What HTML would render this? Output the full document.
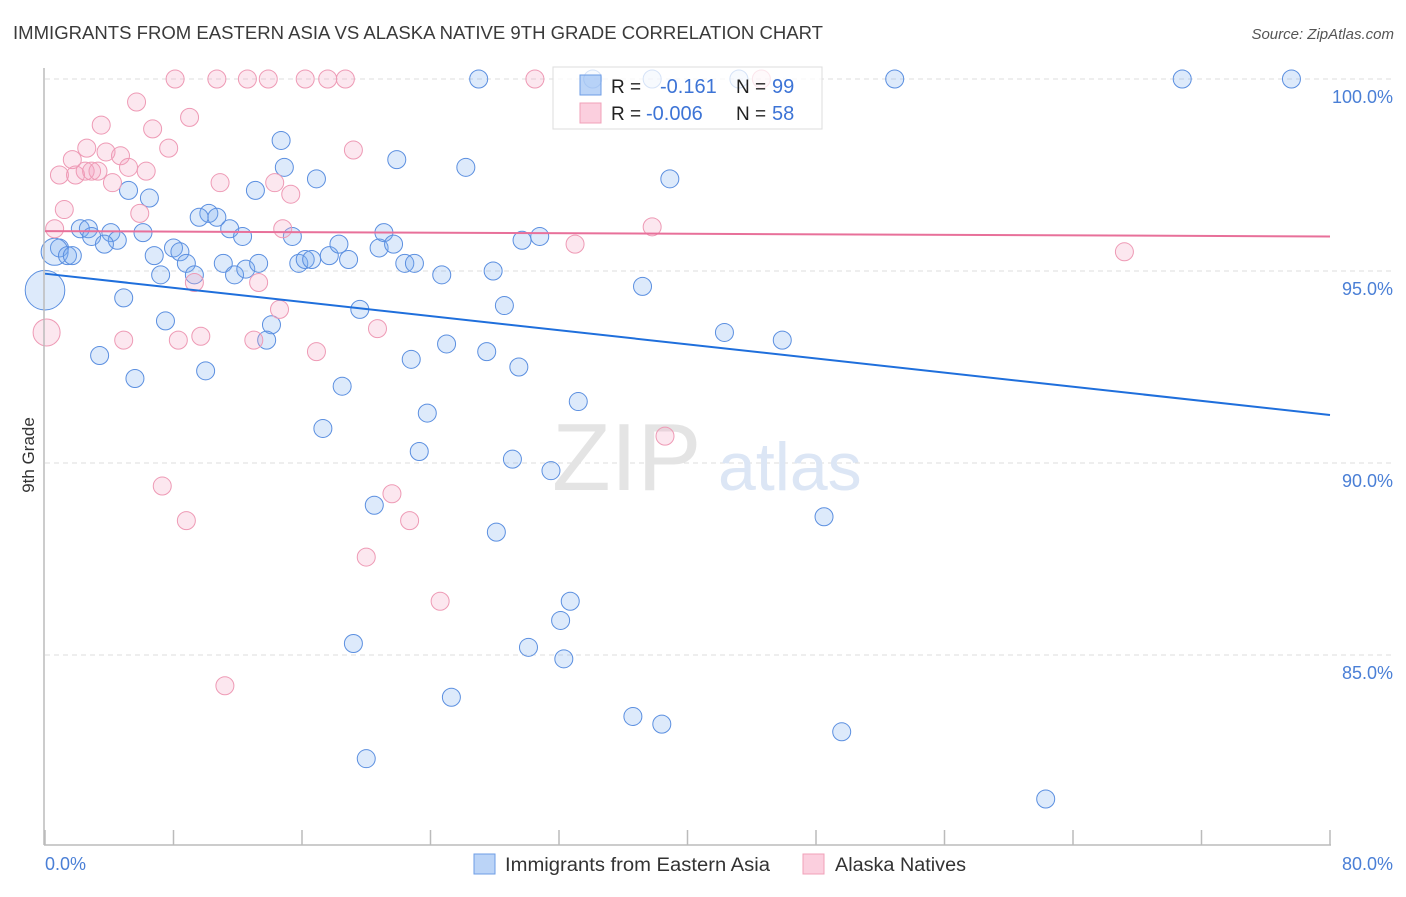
<!DOCTYPE html>
<html><head><meta charset="utf-8"><style>
body{margin:0;background:#fff;font-family:"Liberation Sans",sans-serif}
svg text{font-family:"Liberation Sans",sans-serif}
</style></head><body>
<svg id="chart" width="1406" height="892" viewBox="0 0 1406 892" xmlns="http://www.w3.org/2000/svg">
<text x="13" y="39" font-size="18" fill="#3a3a3a" textLength="810" lengthAdjust="spacingAndGlyphs">IMMIGRANTS FROM EASTERN ASIA VS ALASKA NATIVE 9TH GRADE CORRELATION CHART</text>
<text x="1394" y="39" font-size="15" fill="#555" text-anchor="end" font-style="italic">Source: ZipAtlas.com</text>
<g id="grid"></g>
<text x="552" y="490" font-size="96" fill="#e4e4e4" font-family="Liberation Serif">ZIP</text>
<text x="718" y="490" font-size="68" fill="#dce6f5">atlas</text>
<g id="pts"></g>
<g id="lines"></g>
<line x1="44" y1="68" x2="44" y2="845" stroke="#bbb" stroke-width="1.5"/>
<line x1="44" y1="845" x2="1331" y2="845" stroke="#bbb" stroke-width="1.5"/>
<g id="xt"></g>
<g id="yt"></g>
<text x="45" y="870" font-size="18" fill="#4a7fd6">0.0%</text>
<text x="1393" y="870" font-size="18" fill="#4a7fd6" text-anchor="end">80.0%</text>
<text transform="translate(34,455) rotate(-90)" font-size="17" fill="#333" text-anchor="middle">9th Grade</text>
<g>
<rect x="553" y="67" width="269" height="62" fill="rgba(255,255,255,0.75)" stroke="#ddd"/>
<rect x="580" y="75" width="21" height="20" fill="rgba(120,170,240,0.5)" stroke="#6e9de6"/>
<rect x="580" y="103" width="21" height="20" fill="rgba(248,175,200,0.6)" stroke="#f0a0b8"/>
<text x="611" y="93" font-size="19" fill="#222">R =</text>
<text x="660" y="93" font-size="20" fill="#3d74d6">-0.161</text>
<text x="736" y="93" font-size="19" fill="#222">N =</text>
<text x="772" y="93" font-size="20" fill="#3d74d6">99</text>
<text x="611" y="120" font-size="19" fill="#222">R =</text>
<text x="646" y="120" font-size="20" fill="#3d74d6">-0.006</text>
<text x="736" y="120" font-size="19" fill="#222">N =</text>
<text x="772" y="120" font-size="20" fill="#3d74d6">58</text>
</g>
<g>
<rect x="474" y="854" width="21" height="20" fill="rgba(120,170,240,0.5)" stroke="#6e9de6"/>
<text x="505" y="871" font-size="19" fill="#333" textLength="265" lengthAdjust="spacingAndGlyphs">Immigrants from Eastern Asia</text>
<rect x="803" y="854" width="21" height="20" fill="rgba(248,175,200,0.6)" stroke="#f0a0b8"/>
<text x="835" y="871" font-size="19" fill="#333" textLength="131" lengthAdjust="spacingAndGlyphs">Alaska Natives</text>
</g>
</svg>
<script>
const yTicks=[100,95,90,85];
const xTickVals=[0,8,16,24,32,40,48,56,64,72,80];
const blueX=[34.1,37.8,27.0,43.2,52.9,70.8,77.6,14.7,14.9,21.9,16.9,26.2,38.9,5.2,6.5,13.1,10.2,9.6,10.7,11.5,12.3,2.2,2.7,2.9,4.1,4.5,3.7,6.1,0.9,0.6,1.4,1.7,8.0,8.4,6.8,8.8,7.2,9.3,11.1,11.8,12.5,13.3,15.4,15.8,16.2,16.6,17.7,18.3,18.9,20.8,21.1,21.7,22.4,23.0,24.7,27.9,29.7,30.8,37.2,28.6,19.6,4.9,7.5,14.1,13.8,3.4,5.6,10.0,25.0,22.8,27.5,29.5,42.3,45.9,18.5,33.2,23.8,17.3,23.3,29.1,31.5,20.5,28.1,48.5,32.7,32.1,19.2,30.1,32.3,25.3,36.6,38.4,49.6,20.0,62.3,0];
const blueY=[100,100,100,100,100,100,100,98.4,97.7,97.9,97.4,97.7,97.4,97.1,96.9,97.1,96.5,96.4,96.4,96.1,95.9,96.1,96.1,95.9,96.0,95.8,95.7,96.0,95.6,95.5,95.4,95.4,95.6,95.5,95.4,95.2,94.9,94.9,95.2,94.9,95.05,95.2,95.9,95.2,95.3,95.3,95.4,95.7,95.3,95.6,96.0,95.7,95.2,95.2,94.9,95.0,95.8,95.9,94.6,94.1,94.0,94.3,93.7,93.6,93.2,92.8,92.2,92.4,93.1,92.7,92.9,92.5,93.4,93.2,92.0,91.6,91.3,90.9,90.3,90.1,89.8,88.9,88.2,88.6,86.4,85.9,85.3,85.2,84.9,83.9,83.4,83.2,83.0,82.3,81.25,94.5];
const blueSize=blueX.map((v,i)=>i===95?2.2:(i===29?1.5:1));
const pinkX=[8.1,10.7,12.6,13.9,16.2,17.6,18.7,30.5,44.6,5.7,9.0,3.5,6.7,7.7,19.2,2.6,3.8,4.7,1.7,0.9,1.9,2.5,2.9,3.3,4.2,5.2,6.3,10.9,14.3,15.3,1.2,5.9,0.6,14.8,33.0,37.8,67.2,9.3,13.3,14.6,20.7,0.1,4.9,8.3,9.7,13.0,16.9,38.6,7.3,21.6,8.8,22.7,20.0,24.6,11.2];
const pinkY=[100,100,100,100,100,100,100,100,100,99.4,99.0,98.8,98.7,98.2,98.15,98.2,98.1,98.0,97.9,97.5,97.5,97.6,97.6,97.6,97.3,97.7,97.6,97.3,97.3,97.0,96.6,96.5,96.1,96.1,95.7,96.15,95.5,94.7,94.7,94.0,93.5,93.4,93.2,93.2,93.3,93.2,92.9,90.7,89.4,89.2,88.5,88.5,87.55,86.4,84.2];
const pinkSize=pinkX.map((v,i)=>i===41?1.5:1);
const blueTrend=[94.93,91.25];
const pinkTrend=[96.04,95.9];
const NS='http://www.w3.org/2000/svg';
const X=v=>45+v*(1285/80);
const Y=v=>79+(100-v)*38.4;
function mk(t,a,p){const e=document.createElementNS(NS,t);for(const k in a)e.setAttribute(k,a[k]);p.appendChild(e);return e;}
const grid=document.getElementById('grid'),yt=document.getElementById('yt'),xt=document.getElementById('xt');
yTicks.forEach(v=>{
 const l=mk('line',{x1:45,x2:1394,y1:Y(v),y2:Y(v),stroke:'#ddd','stroke-dasharray':'5,4'},grid);
 
 
 const t=mk('text',{x:1393,y:Y(v)+24,'font-size':18,fill:'#4a7fd6','text-anchor':'end'},yt);
 t.textContent=v.toFixed(1)+'%';
 
 
});
xTickVals.forEach(v=>{
 const l=mk('line',{x1:X(v),x2:X(v),y1:830,y2:845,stroke:'#bbb','stroke-width':1.5},xt);
 
 
});
const pts=document.getElementById('pts');
blueX.forEach((v,i)=>{
 const c=mk('circle',{cx:X(v),cy:Y(blueY[i]),r:9*blueSize[i],fill:'rgba(120,170,240,0.25)',stroke:'#5b8fe0','stroke-width':1},pts);
 
 
});
pinkX.forEach((v,i)=>{
 const c=mk('circle',{cx:X(v),cy:Y(pinkY[i]),r:9*pinkSize[i],fill:'rgba(245,160,190,0.25)',stroke:'#ee9ab5','stroke-width':1},pts);
 
 
});
const lines=document.getElementById('lines');
const bl=mk('line',{x1:X(0),y1:Y(blueTrend[0]),x2:X(80),y2:Y(blueTrend[1]),stroke:'#1f6fdc','stroke-width':2},lines);


const pl=mk('line',{x1:X(0),y1:Y(pinkTrend[0]),x2:X(80),y2:Y(pinkTrend[1]),stroke:'#e8709a','stroke-width':2},lines);


</script>
</body></html>
